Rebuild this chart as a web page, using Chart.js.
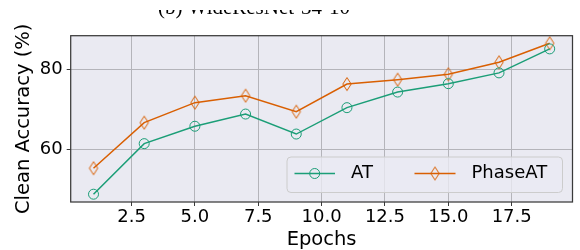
<!DOCTYPE html>
<html>
<head>
<meta charset="utf-8">
<script src="https://cdn.jsdelivr.net/npm/chart.js@4.4.1/dist/chart.umd.min.js"></script>
<style>
html,body{margin:0;padding:0;background:#fff;}
#wrap{width:580px;height:250px;position:relative;}
</style>
</head>
<body>
<div id="wrap"><canvas id="c" width="580" height="250"></canvas></div>
<script>
const titleText = "(b) WideResNet-34-10";
const epochs = [1, 3, 5, 7, 9, 11, 13, 15, 17, 19];
const atValues = [48.75, 61.4, 65.75, 68.8, 63.8, 70.4, 74.3, 76.4, 79.1, 85.1];
const phaseAtValues = [55.25, 66.65, 71.65, 73.4, 69.4, 76.3, 77.4, 78.75, 81.75, 86.5];
const xTicks = [2.5, 5, 7.5, 10, 12.5, 15, 17.5];
const yTicks = [60, 80];
const seriesNames = ["AT", "PhaseAT"];

const GREEN = '#1b9e77';
const ORANGE = '#d95f02';
const FONT = '"DejaVu Sans", sans-serif';

function makeDiamond(color) {
  const cv = document.createElement('canvas');
  cv.width = 12; cv.height = 16;
  const g = cv.getContext('2d');
  g.strokeStyle = color;
  g.lineWidth = 1;
  g.beginPath();
  g.moveTo(6, 1.5);
  g.lineTo(10.2, 8);
  g.lineTo(6, 14.5);
  g.lineTo(1.8, 8);
  g.closePath();
  g.stroke();
  return cv;
}
const diamond = makeDiamond(ORANGE);

const bgPlugin = {
  id: 'bg',
  beforeDraw(chart) {
    const {ctx, chartArea: a} = chart;
    ctx.save();
    ctx.fillStyle = '#eaeaf2';
    ctx.fillRect(a.left, a.top, a.right - a.left, a.bottom - a.top);
    ctx.restore();
  },
  afterDraw(chart) {
    const {ctx, chartArea: a} = chart;
    ctx.save();
    // frame
    ctx.strokeStyle = '#3a3a3a';
    ctx.lineWidth = 1.25;
    ctx.strokeRect(a.left, a.top, a.right - a.left, a.bottom - a.top);
    // legend
    const lx = 287, ly = 157, lw = 275.5, lh = 35.5;
    ctx.beginPath();
    ctx.roundRect(lx, ly, lw, lh, 4);
    ctx.fillStyle = 'rgba(234,234,242,0.8)';
    ctx.fill();
    ctx.strokeStyle = '#cccccc';
    ctx.lineWidth = 1;
    ctx.stroke();
    const cy = 173.5;
    // AT entry
    ctx.strokeStyle = GREEN; ctx.lineWidth = 1.5;
    ctx.beginPath(); ctx.moveTo(294.5, cy); ctx.lineTo(335, cy); ctx.stroke();
    ctx.lineWidth = 1;
    ctx.beginPath(); ctx.arc(314.7, cy, 5, 0, Math.PI * 2); ctx.stroke();
    // PhaseAT entry
    ctx.strokeStyle = ORANGE; ctx.lineWidth = 1.5;
    ctx.beginPath(); ctx.moveTo(414.5, cy); ctx.lineTo(455.5, cy); ctx.stroke();
    ctx.drawImage(diamond, 435 - 6, cy - 8);
    ctx.fillStyle = '#000';
    ctx.font = '18px ' + FONT;
    ctx.textBaseline = 'middle';
    ctx.textAlign = 'left';
    ctx.fillText(seriesNames[0], 351, cy);
    ctx.fillText(seriesNames[1], 471.5, cy);
    // title (cropped at top)
    ctx.font = '21px "Liberation Serif", serif';
    ctx.textAlign = 'center';
    ctx.textBaseline = 'alphabetic';
    ctx.fillText(titleText, 254, 13.5);
    ctx.fillStyle = '#fff';
    ctx.fillRect(0, 0, 580, 10);
    ctx.restore();
  }
};

new Chart(document.getElementById('c'), {
  type: 'line',
  data: {
    datasets: [
      {
        label: seriesNames[0],
        data: epochs.map((x, i) => ({x, y: atValues[i]})),
        borderColor: GREEN,
        backgroundColor: 'rgba(0,0,0,0)',
        borderWidth: 1.5,
        pointStyle: 'circle',
        pointRadius: 5,
        pointBorderWidth: 1,
        pointBorderColor: GREEN,
        pointBackgroundColor: 'rgba(0,0,0,0)',
        tension: 0,
        clip: false
      },
      {
        label: seriesNames[1],
        data: epochs.map((x, i) => ({x, y: phaseAtValues[i]})),
        borderColor: ORANGE,
        backgroundColor: 'rgba(0,0,0,0)',
        borderWidth: 1.5,
        pointStyle: diamond,
        pointRadius: 6,
        tension: 0,
        clip: false
      }
    ]
  },
  options: {
    responsive: false,
    animation: false,
    devicePixelRatio: 1,
    layout: {padding: {top: 35.7, right: 7, left: 0, bottom: 0}},
    plugins: {legend: {display: false}, tooltip: {enabled: false}, title: {display: false}},
    scales: {
      x: {
        type: 'linear',
        min: 0.1,
        max: 19.9,
        afterBuildTicks(s) { s.ticks = xTicks.map(v => ({value: v})); },
        afterFit(s) { s.height = 48; },
        ticks: {
          color: '#000',
          font: {family: FONT, size: 18, lineHeight: 1},
          padding: 2,
          maxRotation: 0,
          autoSkip: false,
          callback: v => Number(v).toFixed(1)
        },
        grid: {color: '#b4b4ba', lineWidth: 1, tickColor: '#3a3a3a', tickLength: 4, drawTicks: true},
        border: {display: false},
        title: {display: true, text: 'Epochs', color: '#000', font: {family: FONT, size: 19.5, lineHeight: 1}, padding: {top: 0, bottom: 0}}
      },
      y: {
        type: 'linear',
        min: 46.8,
        max: 88.4,
        afterBuildTicks(s) { s.ticks = yTicks.map(v => ({value: v})); },
        afterFit(s) { s.width = 70.7; },
        ticks: {
          color: '#000',
          font: {family: FONT, size: 18},
          padding: 4,
          autoSkip: false,
          callback: v => String(v)
        },
        grid: {color: '#b4b4ba', lineWidth: 1, tickColor: '#3a3a3a', tickLength: 4, drawTicks: true},
        border: {display: false},
        title: {display: true, text: 'Clean Accuracy (%)', color: '#000', font: {family: FONT, size: 19.5, lineHeight: 1.2}, padding: {top: 12.5, bottom: 0}}
      }
    }
  },
  plugins: [bgPlugin]
});
</script>
</body>
</html>
